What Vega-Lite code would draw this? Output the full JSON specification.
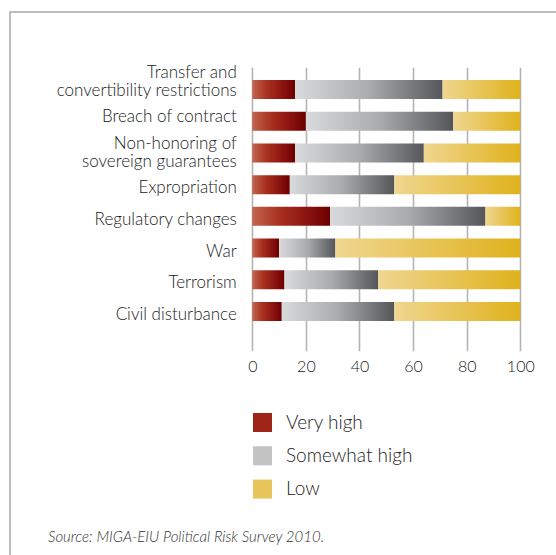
{
  "$schema": "https://vega.github.io/schema/vega-lite/v6.json",
  "width": 548,
  "height": 545,
  "autosize": {"type": "none"},
  "padding": {"left": 10, "top": 12, "right": -2, "bottom": -2},
  "background": "white",
  "config": {
    "view": {"stroke": "#a8a8a8", "strokeWidth": 1.5},
    "font": "Lato"
  },
  "title": {
    "text": "Source: MIGA-EIU Political Risk Survey 2010.",
    "orient": "bottom",
    "anchor": "start",
    "frame": "group",
    "offset": -15,
    "dx": 38,
    "baseline": "alphabetic",
    "font": "Lato",
    "fontSize": 15,
    "fontStyle": "italic",
    "fontWeight": 300,
    "color": "#333333"
  },
  "data": {
    "values": [
      {"risk": "Transfer and convertibility restrictions", "level": "Very high", "o": 1, "value": 16},
      {"risk": "Transfer and convertibility restrictions", "level": "Somewhat high", "o": 2, "value": 55},
      {"risk": "Transfer and convertibility restrictions", "level": "Low", "o": 3, "value": 29},
      {"risk": "Breach of contract", "level": "Very high", "o": 1, "value": 20},
      {"risk": "Breach of contract", "level": "Somewhat high", "o": 2, "value": 55},
      {"risk": "Breach of contract", "level": "Low", "o": 3, "value": 25},
      {"risk": "Non-honoring of sovereign guarantees", "level": "Very high", "o": 1, "value": 16},
      {"risk": "Non-honoring of sovereign guarantees", "level": "Somewhat high", "o": 2, "value": 48},
      {"risk": "Non-honoring of sovereign guarantees", "level": "Low", "o": 3, "value": 36},
      {"risk": "Expropriation", "level": "Very high", "o": 1, "value": 14},
      {"risk": "Expropriation", "level": "Somewhat high", "o": 2, "value": 39},
      {"risk": "Expropriation", "level": "Low", "o": 3, "value": 47},
      {"risk": "Regulatory changes", "level": "Very high", "o": 1, "value": 29},
      {"risk": "Regulatory changes", "level": "Somewhat high", "o": 2, "value": 58},
      {"risk": "Regulatory changes", "level": "Low", "o": 3, "value": 13},
      {"risk": "War", "level": "Very high", "o": 1, "value": 10},
      {"risk": "War", "level": "Somewhat high", "o": 2, "value": 21},
      {"risk": "War", "level": "Low", "o": 3, "value": 69},
      {"risk": "Terrorism", "level": "Very high", "o": 1, "value": 12},
      {"risk": "Terrorism", "level": "Somewhat high", "o": 2, "value": 35},
      {"risk": "Terrorism", "level": "Low", "o": 3, "value": 53},
      {"risk": "Civil disturbance", "level": "Very high", "o": 1, "value": 11},
      {"risk": "Civil disturbance", "level": "Somewhat high", "o": 2, "value": 42},
      {"risk": "Civil disturbance", "level": "Low", "o": 3, "value": 47}
    ]
  },
  "transform": [
    {"stack": "value", "groupby": ["risk"], "sort": [{"field": "o", "order": "ascending"}], "as": ["x0", "x1"]}
  ],
  "encoding": {
    "y": {
      "field": "risk",
      "type": "nominal",
      "sort": ["Transfer and convertibility restrictions", "Breach of contract", "Non-honoring of sovereign guarantees", "Expropriation", "Regulatory changes", "War", "Terrorism", "Civil disturbance"],
      "scale": {"range": [61.66, 315.34], "paddingInner": 0.4, "paddingOuter": 0.2, "align": 0.5, "round": false},
      "axis": {
        "title": null,
        "orient": "left",
        "offset": -242.3,
        "domain": false,
        "ticks": false,
        "tickSize": 0,
        "grid": false,
        "labelPadding": 16,
        "labelFont": "Lato",
        "labelFontSize": 17,
        "labelFontWeight": 300,
        "labelColor": "#222222",
        "labelLimit": 400,
        "labelBaseline": "middle",
        "labelLineHeight": 18.3,
        "labelExpr": "datum.value == 'Transfer and convertibility restrictions' ? ['Transfer and', 'convertibility restrictions'] : datum.value == 'Non-honoring of sovereign guarantees' ? ['Non-honoring of', 'sovereign guarantees'] : datum.value",
        "labelOffset": {
          "condition": [
            {"test": "datum.value == 'Transfer and convertibility restrictions'", "value": -16.7},
            {"test": "datum.value == 'Breach of contract'", "value": -4.7},
            {"test": "datum.value == 'Non-honoring of sovereign guarantees'", "value": -8.8}
          ],
          "value": 3.6
        },
        "zindex": 1
      }
    },
    "x": {
      "field": "x0",
      "type": "quantitative",
      "scale": {"domain": [-90.41, 114.07], "nice": false, "zero": false},
      "axis": {
        "title": null,
        "orient": "bottom",
        "offset": -206.3,
        "values": [0, 20, 40, 60, 80, 100],
        "domain": false,
        "grid": false,
        "ticks": true,
        "tickSize": -283.4,
        "tickColor": "#b4b4b4",
        "tickWidth": 1.6,
        "labelPadding": 290.7,
        "labelFont": "Lato",
        "labelFontSize": 16,
        "labelFontWeight": 300,
        "labelColor": "#222222",
        "labelFlush": false,
        "zindex": 0
      }
    },
    "x2": {"field": "x1"}
  },
  "layer": [
    {
      "mark": {"type": "bar", "opacity": 0},
      "encoding": {
        "color": {
          "field": "level",
          "type": "nominal",
          "scale": {"domain": ["Very high", "Somewhat high", "Low"], "range": ["#9e2418", "#c3c3c3", "#e8c55a"]},
          "legend": {
            "title": null,
            "orient": "none",
            "legendX": 243,
            "legendY": 401,
            "direction": "vertical",
            "symbolType": "square",
            "symbolSize": 361,
            "symbolStrokeWidth": 0,
            "symbolOpacity": 1,
            "labelFont": "Lato",
            "labelFontSize": 19,
            "labelFontWeight": 300,
            "labelColor": "#222222",
            "labelOffset": 14,
            "rowPadding": 13.3,
            "padding": 0
          }
        }
      }
    },
    {
      "transform": [{"filter": "datum.level == 'Very high'"}],
      "mark": {"type": "bar", "color": {"gradient": "linear", "x1": 0, "y1": 0, "x2": 1, "y2": 0, "stops": [{"offset": 0, "color": "#c2654e"}, {"offset": 0.35, "color": "#a8301f"}, {"offset": 0.7, "color": "#8c1410"}, {"offset": 1, "color": "#6a0000"}]}}
    },
    {
      "transform": [{"filter": "datum.level == 'Somewhat high'"}],
      "mark": {"type": "bar", "color": {"gradient": "linear", "x1": 0, "y1": 0, "x2": 1, "y2": 0, "stops": [{"offset": 0, "color": "#d9dadc"}, {"offset": 0.5, "color": "#aaabae"}, {"offset": 1, "color": "#55565a"}]}}
    },
    {
      "transform": [{"filter": "datum.level == 'Low'"}],
      "mark": {"type": "bar", "color": {"gradient": "linear", "x1": 0, "y1": 0, "x2": 1, "y2": 0, "stops": [{"offset": 0, "color": "#f0d690"}, {"offset": 1, "color": "#dfb21c"}]}}
    }
  ]
}
